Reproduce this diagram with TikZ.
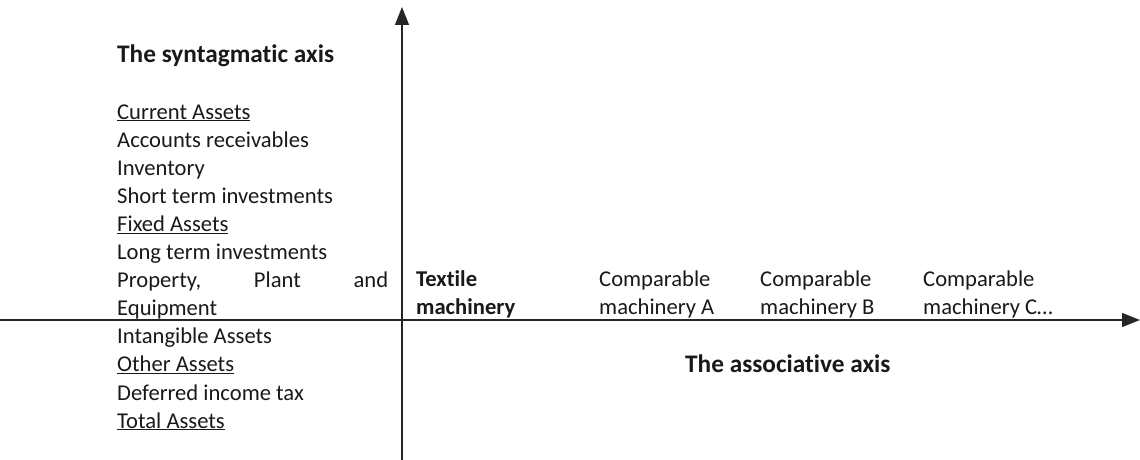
\documentclass[tikz,border=0pt]{standalone}
\usepackage{fontspec}
\setmainfont[Ligatures=NoCommon]{Carlito}
\usetikzlibrary{arrows.meta}
\begin{document}
\begin{tikzpicture}[x=1pt,y=-1pt,
  txt/.style={inner sep=0pt,anchor=base west,font=\fontsize{22.6}{26}\selectfont,text=black!90},
  bold/.style={txt,font=\fontsize{22.6}{26}\selectfont\bfseries},
  head/.style={txt,font=\fontsize{25.3}{29}\selectfont\bfseries},
  axis/.style={line width=1.3pt,draw=black!85,-{Triangle[length=18pt,width=14pt]}}]
\useasboundingbox (0,0) rectangle (1140,460);
\coordinate (vb) at (402,460);
\coordinate (vt) at (402,7);
\coordinate (hl) at (0,320);
\coordinate (hr) at (1140,320);
\draw[axis] (vb) -- (vt);
\draw[axis] (hl) -- (hr);
\node[head] (syn) at (117,63) {The syntagmatic axis};
\foreach \t [count=\i] in {{\underline{Current Assets}},{Accounts receivables},{Inventory},{Short term investments},{\underline{Fixed Assets}},{Long term investments},{\makebox[271pt][s]{Property,\hfill Plant\hfill and}},{Equipment},{Intangible Assets},{\underline{Other Assets}},{Deferred income tax},{\underline{Total Assets}}}
  \node[txt] (l\i) at (117,{119+28.1*(\i-1)}) {\t};
\node[bold] (tm1) at (416,286) {Textile};
\node[bold] (tm2) at (416,314) {machinery};
\node[txt] (a1) at (599,286) {Comparable};
\node[txt] (a2) at (599,314) {machinery A};
\node[txt] (b1) at (760,286) {Comparable};
\node[txt] (b2) at (760,314) {machinery B};
\node[txt] (c1) at (923,286) {Comparable};
\node[txt] (c2) at (923,314) {machinery C\dots};
\node[head] (ass) at (685,372) {The associative axis};
\end{tikzpicture}
\end{document}
